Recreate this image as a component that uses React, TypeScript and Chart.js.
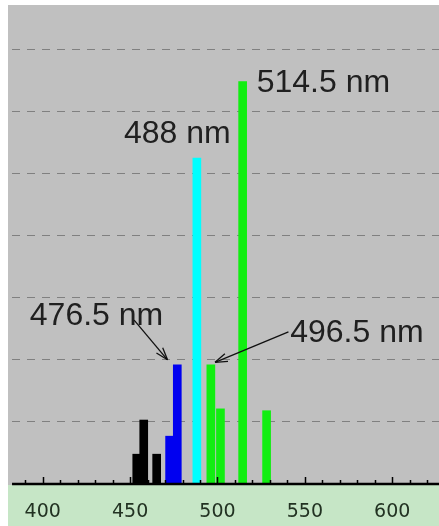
import React, { useEffect, useRef } from "react";
import { Chart, registerables } from "chart.js";

Chart.register(...registerables);

// Argon-ion laser lines (nm) and their relative intensities
const LINE_NM = [453.8, 457.8, 465.2, 472.6, 477.0, 488.2, 496.2, 501.7, 514.4, 528.1];
const INTENSITY = [0.48, 1.03, 0.48, 0.77, 1.92, 5.25, 1.92, 1.21, 6.48, 1.18];
const BAR_COLORS = [
  "#000000", "#000000", "#000000",
  "#0000f0", "#0000f0",
  "#00ffff",
  "#11ee11", "#11ee11", "#11ee11", "#11ee11",
];

const X_TICKS = [400, 450, 500, 550, 600];
const X_MINOR_STEP = 10;
const Y_GRID = [1, 2, 3, 4, 5, 6, 7];

// Annotation labels (data coordinates of left/baseline)
const LABEL_TEXT = ["514.5 nm", "488 nm", "476.5 nm", "496.5 nm"];
const LABEL_X = [522.45, 446.5, 392.6, 541.6];
const LABEL_Y = [6.31, 5.49, 2.56, 2.29];

// Arrows (data coordinates)
const ARROW_FROM_X = [452.3, 540.6];
const ARROW_FROM_Y = [2.64, 2.45];
const ARROW_TO_X = [471.4, 498.6];
const ARROW_TO_Y = [2.0, 1.96];

const X_MIN = 382.43;
const X_MAX = 626.76;
const Y_MAX = 7.713;

const decorPlugin = {
  id: "decor",
  beforeDraw(chart: any) {
    const { ctx, chartArea, width, height } = chart;
    ctx.save();
    ctx.fillStyle = "#c0c0c0";
    ctx.fillRect(0, 0, width, chartArea.bottom + 1);
    ctx.fillStyle = "#c6e6c6";
    ctx.fillRect(0, chartArea.bottom + 1, width, height - chartArea.bottom - 1);
    ctx.restore();
  },
  afterDatasetsDraw(chart: any) {
    const { ctx, chartArea, scales } = chart;
    const xs = scales.x;
    const ys = scales.y;
    ctx.save();
    // axis line
    ctx.strokeStyle = "#000000";
    ctx.lineWidth = 2.5;
    ctx.beginPath();
    ctx.moveTo(chartArea.left, chartArea.bottom);
    ctx.lineTo(chartArea.right, chartArea.bottom);
    ctx.stroke();
    // inward tick marks
    ctx.lineWidth = 1.5;
    const start = Math.ceil(X_MIN / X_MINOR_STEP) * X_MINOR_STEP;
    for (let v = start; v <= X_MAX; v += X_MINOR_STEP) {
      const px = Math.round(xs.getPixelForValue(v)) + 0.5;
      const len = v % 50 === 0 ? 7 : 4;
      ctx.beginPath();
      ctx.moveTo(px, chartArea.bottom);
      ctx.lineTo(px, chartArea.bottom - len);
      ctx.stroke();
    }
    // labels
    ctx.fillStyle = "#202020";
    ctx.font = "32px Arial, 'Liberation Sans', sans-serif";
    ctx.textAlign = "left";
    ctx.textBaseline = "alphabetic";
    LABEL_TEXT.forEach((t, i) => {
      ctx.fillText(t, xs.getPixelForValue(LABEL_X[i]), ys.getPixelForValue(LABEL_Y[i]));
    });
    // arrows
    ctx.strokeStyle = "#101010";
    ctx.lineWidth = 1.3;
    ARROW_FROM_X.forEach((_, i) => {
      const x1 = xs.getPixelForValue(ARROW_FROM_X[i]);
      const y1 = ys.getPixelForValue(ARROW_FROM_Y[i]);
      const x2 = xs.getPixelForValue(ARROW_TO_X[i]);
      const y2 = ys.getPixelForValue(ARROW_TO_Y[i]);
      ctx.beginPath();
      ctx.moveTo(x1, y1);
      ctx.lineTo(x2, y2);
      ctx.stroke();
      const a = Math.atan2(y2 - y1, x2 - x1);
      const L = 13;
      for (const s of [-0.32, 0.32]) {
        ctx.beginPath();
        ctx.moveTo(x2, y2);
        ctx.lineTo(x2 - L * Math.cos(a + s), y2 - L * Math.sin(a + s));
        ctx.stroke();
      }
    });
    ctx.restore();
  },
};

export default function App() {
  const ref = useRef<HTMLCanvasElement | null>(null);
  useEffect(() => {
    if (!ref.current) return;
    const chart = new Chart(ref.current, {
      type: "bar",
      data: {
        datasets: [
          {
            data: LINE_NM.map((x, i) => ({ x, y: INTENSITY[i] })),
            backgroundColor: BAR_COLORS,
            borderWidth: 0,
            barThickness: 8,
          } as any,
        ],
      },
      options: {
        animation: false,
        responsive: false,
        layout: { padding: { left: 0, right: 0, top: 0, bottom: -14 } },
        plugins: { legend: { display: false }, tooltip: { enabled: false } },
        scales: {
          x: {
            type: "linear",
            min: X_MIN,
            max: X_MAX,
            offset: false,
            afterBuildTicks: (s: any) => {
              s.ticks = X_TICKS.map((v) => ({ value: v }));
            },
            grid: { display: false, drawTicks: false },
            border: { display: false },
            ticks: {
              padding: 16.6,
              color: "#223222",
              font: { family: "'DejaVu Sans', sans-serif", size: 19 },
              maxRotation: 0,
              autoSkip: false,
            },
          },
          y: {
            type: "linear",
            min: 0,
            max: Y_MAX,
            afterBuildTicks: (s: any) => {
              s.ticks = Y_GRID.map((v) => ({ value: v }));
            },
            grid: {
              display: true,
              drawTicks: false,
              color: "#808080",
              lineWidth: 1,
            },
            border: { display: false, dash: [8, 7] } as any,
            ticks: { display: false },
          },
        },
      },
      plugins: [decorPlugin],
    });
    return () => chart.destroy();
  }, []);
  return (
    <div style={{ position: "absolute", left: 8, top: 5, width: 431, height: 521 }}>
      <canvas ref={ref} width={431} height={521} style={{ display: "block" }} />
    </div>
  );
}
